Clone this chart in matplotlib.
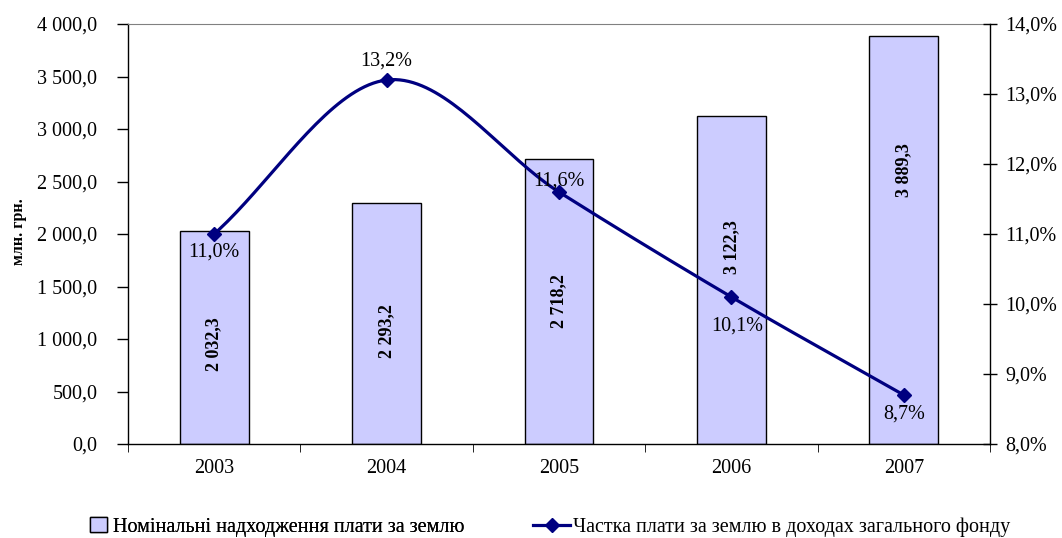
import numpy as np
import matplotlib
matplotlib.use("Agg")
import matplotlib.pyplot as plt
from matplotlib.lines import Line2D
from matplotlib.patches import Patch

years = ["2003", "2004", "2005", "2006", "2007"]
revenue = [2032.3, 2293.2, 2718.2, 3122.3, 3889.3]
share = [11.0, 13.2, 11.6, 10.1, 8.7]
revenue_labels = ["2 032,3", "2 293,2", "2 718,2", "3 122,3", "3 889,3"]
share_labels = ["11,0%", "13,2%", "11,6%", "10,1%", "8,7%"]
left_ticks = [0, 500, 1000, 1500, 2000, 2500, 3000, 3500, 4000]
left_tick_labels = ["0,0", "500,0", "1 000,0", "1 500,0", "2 000,0", "2 500,0",
                    "3 000,0", "3 500,0", "4 000,0"]
right_ticks = [8, 9, 10, 11, 12, 13, 14]
right_tick_labels = ["8,0%", "9,0%", "10,0%", "11,0%", "12,0%", "13,0%", "14,0%"]

plt.rcParams['font.family'] = ['Liberation Serif', 'DejaVu Serif']
FS = 14.5
FS_BAR = 13

fig = plt.figure(figsize=(10.62, 5.38), dpi=100)
ax = fig.add_axes([128/1062, 1-444/538, 862/1062, 420/538])
x = np.arange(len(years))
ax.bar(x, revenue, width=0.40, color='#CCCCFF', edgecolor='black', linewidth=1.0, zorder=2)
ax.set_xlim(-0.5, len(years)-0.5)
ax.set_ylim(0, 4000)
ax.set_yticks(left_ticks)
ax.set_yticklabels(left_tick_labels, fontsize=FS)
ax.set_xticks(x)
ax.set_xticklabels(years, fontsize=FS)
ax.tick_params(axis='x', length=0, pad=11)
ax.set_xticks(np.arange(-0.5, len(years)), minor=True)
ax.tick_params(axis='x', which='minor', length=6, direction='out', color='black')
ax.tick_params(axis='y', length=8, direction='out', width=1, pad=14)
ax.spines['top'].set_color('#808080')
ax.spines['right'].set_visible(False)
for s in ['left', 'bottom']:
    ax.spines[s].set_linewidth(1.0)
fig.text(19/1062, 1-232/538, "млн. грн.", rotation=90, ha='center', va='center',
         fontsize=11.5, fontweight='bold')

# bar value labels (rotated, bold)
label_frac = [0.47, 0.47, 0.50, 0.60, 0.67]
for xi, v, lab, f in zip(x, revenue, revenue_labels, label_frac):
    ax.text(xi, v*f, lab, rotation=90, ha='center', va='center',
            fontsize=FS_BAR, fontweight='bold', zorder=5)

ax2 = ax.twinx()
ax2.set_ylim(8, 14)
ax2.set_yticks(right_ticks)
ax2.set_yticklabels(right_tick_labels, fontsize=FS)
ax2.tick_params(axis='y', length=10, direction='inout', width=1, pad=6)
for s in ['top', 'left', 'bottom']:
    ax2.spines[s].set_visible(False)
ax2.spines['right'].set_linewidth(1.0)

# smooth curve (Catmull-Rom through the data points)
px = np.array(x, dtype=float)
py = np.array(share, dtype=float)
P = np.column_stack([px, py])
Pext = np.vstack([P[0] - (P[1]-P[0]), P, P[-1] + (P[-1]-P[-2])])
curve = []
t = np.linspace(0, 1, 40)
for i in range(1, len(Pext)-2):
    p0, p1, p2, p3 = Pext[i-1], Pext[i], Pext[i+1], Pext[i+2]
    m1 = (p2 - p0) / 2
    m2 = (p3 - p1) / 2
    h00 = 2*t**3 - 3*t**2 + 1
    h10 = t**3 - 2*t**2 + t
    h01 = -2*t**3 + 3*t**2
    h11 = t**3 - t**2
    seg = (np.outer(h00, p1) + np.outer(h10, m1) + np.outer(h01, p2) + np.outer(h11, m2))
    curve.append(seg)
curve = np.vstack(curve)
ax2.plot(curve[:, 0], curve[:, 1], color='#000080', linewidth=2.3, zorder=3)
ax2.plot(px, py, linestyle='none', marker='D', markersize=7, color='#000080', zorder=4)

offsets = [(0, -13), (0, 14), (0, 8), (4, -21), (0, -14)]
for xi, v, lab, (dx, dy) in zip(px, py, share_labels, offsets):
    ax2.annotate(lab, (xi, v), xytext=(dx, dy), textcoords='offset points',
                 ha='center', va='center', fontsize=FS, zorder=6)

leg1 = fig.legend([Patch(facecolor='#CCCCFF', edgecolor='black', linewidth=1.0)],
                  ["Номінальні надходження плати за землю"],
                  loc='center left', bbox_to_anchor=(90/1062, 1-527/538),
                  frameon=False, fontsize=FS, handlelength=0.85, handleheight=0.7,
                  handletextpad=0.3, borderpad=0, borderaxespad=0)
leg2 = fig.legend([Line2D([0], [0], color='#000080', linewidth=2.3, marker='D', markersize=7)],
                  ["Частка плати за землю в доходах загального фонду"],
                  loc='center left', bbox_to_anchor=(533/1062, 1-527/538),
                  frameon=False, fontsize=FS, handlelength=1.85,
                  handletextpad=0.15, borderpad=0, borderaxespad=0)
fig.add_artist(leg1)

fig.savefig("out.png", dpi=100)
